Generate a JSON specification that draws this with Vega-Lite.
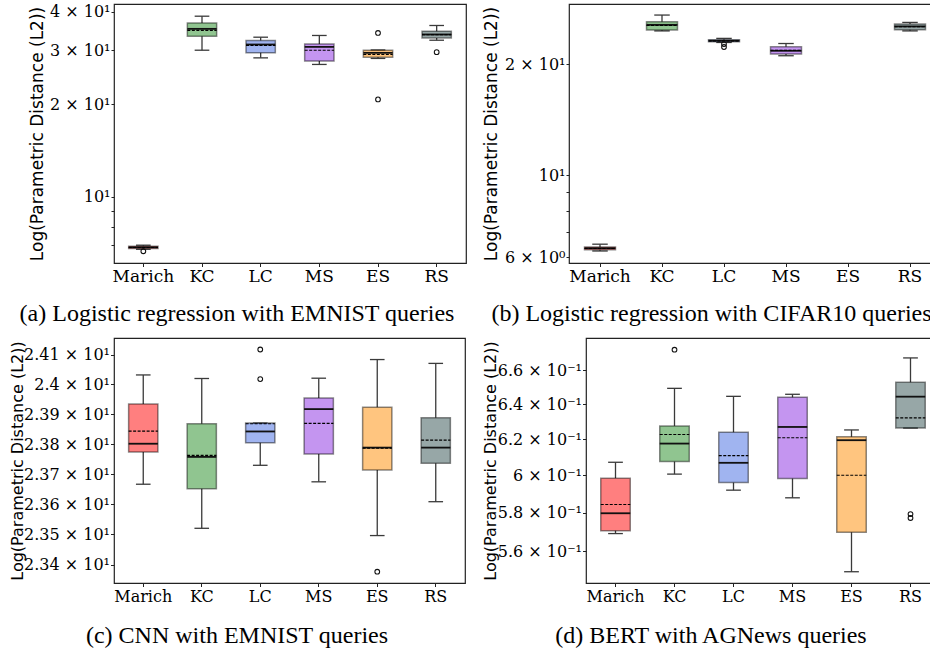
{
"$schema": "https://vega.github.io/schema/vega-lite/v6.json",
"padding": {"left": 8, "top": 3, "right": 0, "bottom": 0},
"background": "white",
"datasets": {
"boxes": [
{"p":"a","cat":"Marich","wlo":6.76,"q1":6.80,"med":6.86,"mean":6.85,"q3":6.92,"whi":6.97},
{"p":"a","cat":"KC","wlo":30.0,"q1":33.3,"med":35.2,"mean":34.8,"q3":36.8,"whi":38.7},
{"p":"a","cat":"LC","wlo":28.33,"q1":29.41,"med":31.31,"mean":31.08,"q3":32.27,"whi":33.07},
{"p":"a","cat":"MS","wlo":26.97,"q1":27.65,"med":30.76,"mean":30.0,"q3":31.45,"whi":33.5},
{"p":"a","cat":"ES","wlo":28.21,"q1":28.48,"med":29.41,"mean":29.06,"q3":30.0,"whi":30.05},
{"p":"a","cat":"RS","wlo":32.33,"q1":32.9,"med":33.75,"mean":33.7,"q3":34.6,"whi":36.1},
{"p":"b","cat":"Marich","wlo":6.23,"q1":6.28,"med":6.34,"mean":6.33,"q3":6.39,"whi":6.5},
{"p":"b","cat":"KC","wlo":24.6,"q1":24.73,"med":25.55,"mean":25.45,"q3":26.05,"whi":27.16},
{"p":"b","cat":"LC","wlo":22.89,"q1":22.99,"med":23.14,"mean":23.1,"q3":23.28,"whi":23.48},
{"p":"b","cat":"MS","wlo":21.07,"q1":21.29,"med":21.73,"mean":21.8,"q3":22.28,"whi":22.74},
{"p":"b","cat":"RS","wlo":24.6,"q1":24.78,"med":25.3,"mean":25.25,"q3":25.68,"whi":25.94},
{"p":"c","cat":"Marich","wlo":23.666,"q1":23.773,"med":23.801,"mean":23.843,"q3":23.934,"whi":24.032},
{"p":"c","cat":"KC","wlo":23.52,"q1":23.651,"med":23.757,"mean":23.762,"q3":23.868,"whi":24.02},
{"p":"c","cat":"LC","wlo":23.729,"q1":23.804,"med":23.842,"mean":23.868,"q3":23.87,"whi":23.87},
{"p":"c","cat":"MS","wlo":23.674,"q1":23.767,"med":23.917,"mean":23.869,"q3":23.954,"whi":24.021},
{"p":"c","cat":"ES","wlo":23.496,"q1":23.713,"med":23.788,"mean":23.786,"q3":23.923,"whi":24.084},
{"p":"c","cat":"RS","wlo":23.608,"q1":23.736,"med":23.788,"mean":23.813,"q3":23.888,"whi":24.071},
{"p":"d","cat":"Marich","wlo":0.569,"q1":0.5705,"med":0.5796,"mean":0.5842,"q3":0.5984,"whi":0.6071},
{"p":"d","cat":"KC","wlo":0.6006,"q1":0.6075,"med":0.6175,"mean":0.6226,"q3":0.6275,"whi":0.6493},
{"p":"d","cat":"LC","wlo":0.5919,"q1":0.596,"med":0.6068,"mean":0.6108,"q3":0.6239,"whi":0.6446},
{"p":"d","cat":"MS","wlo":0.5878,"q1":0.5982,"med":0.6269,"mean":0.6208,"q3":0.644,"whi":0.6458},
{"p":"d","cat":"ES","wlo":0.5496,"q1":0.5697,"med":0.6194,"mean":0.6,"q3":0.6213,"whi":0.6252},
{"p":"d","cat":"RS","wlo":0.6263,"q1":0.6263,"med":0.6444,"mean":0.6321,"q3":0.6529,"whi":0.6675}
],
"outliers": [
{"p":"a","cat":"Marich","v":6.66},
{"p":"a","cat":"ES","v":34.14},
{"p":"a","cat":"ES","v":20.76},
{"p":"a","cat":"RS","v":29.57},
{"p":"b","cat":"LC","v":22.66},
{"p":"b","cat":"LC","v":22.25},
{"p":"c","cat":"LC","v":24.118},
{"p":"c","cat":"LC","v":24.018},
{"p":"c","cat":"ES","v":23.377},
{"p":"d","cat":"KC","v":0.6725},
{"p":"d","cat":"RS","v":0.5792},
{"p":"d","cat":"RS","v":0.5771}
]
},
"config": {
"view": {"stroke": "#222", "strokeWidth": 1.2},
"axis": {"grid": false, "domain": false, "labelFont": "DejaVu Serif", "labelFontSize": 16, "labelColor": "#000", "tickColor": "#222", "tickWidth": 1, "titleFont": "DejaVu Sans", "titleFontSize": 17, "titleFontWeight": "normal", "titleColor": "#000"},
"axisX": {"labelAngle": 0, "tickSize": 3.5, "labelPadding": 2},
"title": {"font": "Liberation Serif", "fontSize": 24, "fontWeight": "normal", "color": "#000", "orient": "bottom", "anchor": "middle", "frame": "bounds"}
},
"spacing": 10,
"columns": 1,
"align": "none",
"concat": [
{"spacing": 14, "hconcat": [
{
"width": 352, "height": 259,
"title": {"text": "(a) Logistic regression with EMNIST queries", "offset": 17, "frame": "bounds", "dx": -10},
"layer": [
{"data":{"name":"boxes"},"transform":[{"filter":"datum.p=='a'"}],"mark":{"type":"rule","color":"#3a3a3a","strokeWidth":1.3},
 "encoding":{"x":{"field":"cat","type":"nominal","title":null,"bandPosition":0.5,"scale":{"domain":["Marich","KC","LC","MS","ES","RS"],"paddingInner":0,"paddingOuter":0},"axis":{"bandPosition":0.5,"labelFontSize":17}},
  "y":{"field":"wlo","type":"quantitative","title":"Log(Parametric Distance (L2))","scale":{"type":"log","domain":[6.1,42.4],"nice":false,"zero":false},
   "axis":{"values":[7,8,9,10,20,30,40],"labelExpr":"datum.value >= 20 ? format(datum.value/10, '.0f') + ' × 10¹' : datum.value == 10 ? '10¹' : ''","minExtent":68,"maxExtent":68,"titlePadding":0,"labelPadding":1,"tickSize":3}},
  "y2":{"field":"q1"}}},
{"data":{"name":"boxes"},"transform":[{"filter":"datum.p=='a'"}],"mark":{"type":"rule","color":"#3a3a3a","strokeWidth":1.3},
 "encoding":{"x":{"field":"cat","type":"nominal","title":null,"bandPosition":0.5,"scale":{"domain":["Marich","KC","LC","MS","ES","RS"],"paddingInner":0,"paddingOuter":0}},
  "y":{"field":"q3","type":"quantitative","scale":{"type":"log","domain":[6.1,42.4],"nice":false,"zero":false}},"y2":{"field":"whi"}}},
{"data":{"name":"boxes"},"transform":[{"filter":"datum.p=='a'"}],"mark":{"type":"rule","color":"#3a3a3a","strokeWidth":1.3},
 "encoding":{"x":{"field":"cat","type":"nominal","title":null,"bandPosition":0.375,"scale":{"domain":["Marich","KC","LC","MS","ES","RS"],"paddingInner":0,"paddingOuter":0}},"x2":{"field":"cat","bandPosition":0.625},
  "y":{"field":"wlo","type":"quantitative","scale":{"type":"log","domain":[6.1,42.4],"nice":false,"zero":false}}}},
{"data":{"name":"boxes"},"transform":[{"filter":"datum.p=='a'"}],"mark":{"type":"rule","color":"#3a3a3a","strokeWidth":1.3},
 "encoding":{"x":{"field":"cat","type":"nominal","title":null,"bandPosition":0.375,"scale":{"domain":["Marich","KC","LC","MS","ES","RS"],"paddingInner":0,"paddingOuter":0}},"x2":{"field":"cat","bandPosition":0.625},
  "y":{"field":"whi","type":"quantitative","scale":{"type":"log","domain":[6.1,42.4],"nice":false,"zero":false}}}},
{"data":{"name":"boxes"},"transform":[{"filter":"datum.p=='a'"}],"mark":{"type":"bar","width":{"band":0.5},"fillOpacity":0.5,"stroke":"#000","strokeOpacity":0.45,"strokeWidth":1.5},
 "encoding":{"x":{"field":"cat","type":"nominal","title":null,"scale":{"domain":["Marich","KC","LC","MS","ES","RS"],"paddingInner":0,"paddingOuter":0}},
  "y":{"field":"q1","type":"quantitative","scale":{"type":"log","domain":[6.1,42.4],"nice":false,"zero":false}},"y2":{"field":"q3"},
  "color":{"field":"cat","type":"nominal","legend":null,"scale":{"domain":["Marich","KC","LC","MS","ES","RS"],"range":["#ff0000","#228b22","#4169e1","#8a2be2","#ff8c00","#2f4f4f"]}}}},
{"data":{"name":"boxes"},"transform":[{"filter":"datum.p=='a'"}],"mark":{"type":"rule","color":"#111","strokeWidth":1.8},
 "encoding":{"x":{"field":"cat","type":"nominal","title":null,"bandPosition":0.25,"scale":{"domain":["Marich","KC","LC","MS","ES","RS"],"paddingInner":0,"paddingOuter":0}},"x2":{"field":"cat","bandPosition":0.75},
  "y":{"field":"med","type":"quantitative","scale":{"type":"log","domain":[6.1,42.4],"nice":false,"zero":false}}}},
{"data":{"name":"boxes"},"transform":[{"filter":"datum.p=='a'"}],"mark":{"type":"rule","color":"#000","strokeWidth":1.1,"strokeDash":[3,1.5]},
 "encoding":{"x":{"field":"cat","type":"nominal","title":null,"bandPosition":0.25,"scale":{"domain":["Marich","KC","LC","MS","ES","RS"],"paddingInner":0,"paddingOuter":0}},"x2":{"field":"cat","bandPosition":0.75},
  "y":{"field":"mean","type":"quantitative","scale":{"type":"log","domain":[6.1,42.4],"nice":false,"zero":false}}}},
{"data":{"name":"outliers"},"transform":[{"filter":"datum.p=='a'"}],"mark":{"type":"point","shape":"circle","filled":false,"size":22,"stroke":"#111","strokeWidth":1.1,"opacity":1},
 "encoding":{"x":{"field":"cat","type":"nominal","title":null,"scale":{"domain":["Marich","KC","LC","MS","ES","RS"],"paddingInner":0,"paddingOuter":0}},
  "y":{"field":"v","type":"quantitative","scale":{"type":"log","domain":[6.1,42.4],"nice":false,"zero":false}}}}
]
},
{
"width": 364, "height": 259,
"title": {"text": "(b) Logistic regression with CIFAR10 queries", "offset": 17, "frame": "bounds"},
"layer": [
{"data":{"name":"boxes"},"transform":[{"filter":"datum.p=='b'"}],"mark":{"type":"rule","color":"#3a3a3a","strokeWidth":1.3},
 "encoding":{"x":{"field":"cat","type":"nominal","title":null,"bandPosition":0.5,"scale":{"domain":["Marich","KC","LC","MS","ES","RS"],"paddingInner":0,"paddingOuter":0,"range":[0,372]},"axis":{"bandPosition":0.5,"labelFontSize":17}},
  "y":{"field":"wlo","type":"quantitative","title":"Log(Parametric Distance (L2))","scale":{"type":"log","domain":[5.78,29.1],"nice":false,"zero":false},
   "axis":{"values":[6,7,8,9,10,20],"labelExpr":"datum.value == 6 ? '6 × 10⁰' : datum.value == 10 ? '10¹' : datum.value == 20 ? '2 × 10¹' : ''","minExtent":69,"maxExtent":69,"titlePadding":0,"labelPadding":1,"tickSize":3}},
  "y2":{"field":"q1"}}},
{"data":{"name":"boxes"},"transform":[{"filter":"datum.p=='b'"}],"mark":{"type":"rule","color":"#3a3a3a","strokeWidth":1.3},
 "encoding":{"x":{"field":"cat","type":"nominal","title":null,"bandPosition":0.5,"scale":{"domain":["Marich","KC","LC","MS","ES","RS"],"paddingInner":0,"paddingOuter":0,"range":[0,372]}},
  "y":{"field":"q3","type":"quantitative","scale":{"type":"log","domain":[5.78,29.1],"nice":false,"zero":false}},"y2":{"field":"whi"}}},
{"data":{"name":"boxes"},"transform":[{"filter":"datum.p=='b'"}],"mark":{"type":"rule","color":"#3a3a3a","strokeWidth":1.3},
 "encoding":{"x":{"field":"cat","type":"nominal","title":null,"bandPosition":0.375,"scale":{"domain":["Marich","KC","LC","MS","ES","RS"],"paddingInner":0,"paddingOuter":0,"range":[0,372]}},"x2":{"field":"cat","bandPosition":0.625},
  "y":{"field":"wlo","type":"quantitative","scale":{"type":"log","domain":[5.78,29.1],"nice":false,"zero":false}}}},
{"data":{"name":"boxes"},"transform":[{"filter":"datum.p=='b'"}],"mark":{"type":"rule","color":"#3a3a3a","strokeWidth":1.3},
 "encoding":{"x":{"field":"cat","type":"nominal","title":null,"bandPosition":0.375,"scale":{"domain":["Marich","KC","LC","MS","ES","RS"],"paddingInner":0,"paddingOuter":0,"range":[0,372]}},"x2":{"field":"cat","bandPosition":0.625},
  "y":{"field":"whi","type":"quantitative","scale":{"type":"log","domain":[5.78,29.1],"nice":false,"zero":false}}}},
{"data":{"name":"boxes"},"transform":[{"filter":"datum.p=='b'"}],"mark":{"type":"bar","width":{"band":0.5},"fillOpacity":0.5,"stroke":"#000","strokeOpacity":0.45,"strokeWidth":1.5},
 "encoding":{"x":{"field":"cat","type":"nominal","title":null,"scale":{"domain":["Marich","KC","LC","MS","ES","RS"],"paddingInner":0,"paddingOuter":0,"range":[0,372]}},
  "y":{"field":"q1","type":"quantitative","scale":{"type":"log","domain":[5.78,29.1],"nice":false,"zero":false}},"y2":{"field":"q3"},
  "color":{"field":"cat","type":"nominal","legend":null,"scale":{"domain":["Marich","KC","LC","MS","ES","RS"],"range":["#ff0000","#228b22","#4169e1","#8a2be2","#ff8c00","#2f4f4f"]}}}},
{"data":{"name":"boxes"},"transform":[{"filter":"datum.p=='b'"}],"mark":{"type":"rule","color":"#111","strokeWidth":1.8},
 "encoding":{"x":{"field":"cat","type":"nominal","title":null,"bandPosition":0.25,"scale":{"domain":["Marich","KC","LC","MS","ES","RS"],"paddingInner":0,"paddingOuter":0,"range":[0,372]}},"x2":{"field":"cat","bandPosition":0.75},
  "y":{"field":"med","type":"quantitative","scale":{"type":"log","domain":[5.78,29.1],"nice":false,"zero":false}}}},
{"data":{"name":"boxes"},"transform":[{"filter":"datum.p=='b'"}],"mark":{"type":"rule","color":"#000","strokeWidth":1.1,"strokeDash":[3,1.5]},
 "encoding":{"x":{"field":"cat","type":"nominal","title":null,"bandPosition":0.25,"scale":{"domain":["Marich","KC","LC","MS","ES","RS"],"paddingInner":0,"paddingOuter":0,"range":[0,372]}},"x2":{"field":"cat","bandPosition":0.75},
  "y":{"field":"mean","type":"quantitative","scale":{"type":"log","domain":[5.78,29.1],"nice":false,"zero":false}}}},
{"data":{"name":"outliers"},"transform":[{"filter":"datum.p=='b'"}],"mark":{"type":"point","shape":"circle","filled":false,"size":22,"stroke":"#111","strokeWidth":1.1,"opacity":1},
 "encoding":{"x":{"field":"cat","type":"nominal","title":null,"scale":{"domain":["Marich","KC","LC","MS","ES","RS"],"paddingInner":0,"paddingOuter":0,"range":[0,372]}},
  "y":{"field":"v","type":"quantitative","scale":{"type":"log","domain":[5.78,29.1],"nice":false,"zero":false}}}}
]
}
]},
{"spacing": 15, "hconcat": [
{
"width": 351, "height": 245,
"title": {"text": "(c) CNN with EMNIST queries", "offset": 19, "frame": "bounds"},
"layer": [
{"data":{"name":"boxes"},"transform":[{"filter":"datum.p=='c'"}],"mark":{"type":"rule","color":"#3a3a3a","strokeWidth":1.3},
 "encoding":{"x":{"field":"cat","type":"nominal","title":null,"bandPosition":0.5,"scale":{"domain":["Marich","KC","LC","MS","ES","RS"],"paddingInner":0,"paddingOuter":0},"axis":{"bandPosition":0.5}},
  "y":{"field":"wlo","type":"quantitative","title":"Log(Parametric Distance (L2))","scale":{"type":"log","domain":[23.34,24.157],"nice":false,"zero":false},
   "axis":{"values":[23.4,23.5,23.6,23.7,23.8,23.9,24.0,24.1],"labelExpr":"format(datum.value/10, '.3~f') + ' × 10¹'","minExtent":89,"maxExtent":89,"titlePadding":0,"labelPadding":1,"tickSize":3.5,"titleFontSize":16}},
  "y2":{"field":"q1"}}},
{"data":{"name":"boxes"},"transform":[{"filter":"datum.p=='c'"}],"mark":{"type":"rule","color":"#3a3a3a","strokeWidth":1.3},
 "encoding":{"x":{"field":"cat","type":"nominal","title":null,"bandPosition":0.5,"scale":{"domain":["Marich","KC","LC","MS","ES","RS"],"paddingInner":0,"paddingOuter":0}},
  "y":{"field":"q3","type":"quantitative","scale":{"type":"log","domain":[23.34,24.157],"nice":false,"zero":false}},"y2":{"field":"whi"}}},
{"data":{"name":"boxes"},"transform":[{"filter":"datum.p=='c'"}],"mark":{"type":"rule","color":"#3a3a3a","strokeWidth":1.3},
 "encoding":{"x":{"field":"cat","type":"nominal","title":null,"bandPosition":0.375,"scale":{"domain":["Marich","KC","LC","MS","ES","RS"],"paddingInner":0,"paddingOuter":0}},"x2":{"field":"cat","bandPosition":0.625},
  "y":{"field":"wlo","type":"quantitative","scale":{"type":"log","domain":[23.34,24.157],"nice":false,"zero":false}}}},
{"data":{"name":"boxes"},"transform":[{"filter":"datum.p=='c'"}],"mark":{"type":"rule","color":"#3a3a3a","strokeWidth":1.3},
 "encoding":{"x":{"field":"cat","type":"nominal","title":null,"bandPosition":0.375,"scale":{"domain":["Marich","KC","LC","MS","ES","RS"],"paddingInner":0,"paddingOuter":0}},"x2":{"field":"cat","bandPosition":0.625},
  "y":{"field":"whi","type":"quantitative","scale":{"type":"log","domain":[23.34,24.157],"nice":false,"zero":false}}}},
{"data":{"name":"boxes"},"transform":[{"filter":"datum.p=='c'"}],"mark":{"type":"bar","width":{"band":0.5},"fillOpacity":0.5,"stroke":"#000","strokeOpacity":0.45,"strokeWidth":1.5},
 "encoding":{"x":{"field":"cat","type":"nominal","title":null,"scale":{"domain":["Marich","KC","LC","MS","ES","RS"],"paddingInner":0,"paddingOuter":0}},
  "y":{"field":"q1","type":"quantitative","scale":{"type":"log","domain":[23.34,24.157],"nice":false,"zero":false}},"y2":{"field":"q3"},
  "color":{"field":"cat","type":"nominal","legend":null,"scale":{"domain":["Marich","KC","LC","MS","ES","RS"],"range":["#ff0000","#228b22","#4169e1","#8a2be2","#ff8c00","#2f4f4f"]}}}},
{"data":{"name":"boxes"},"transform":[{"filter":"datum.p=='c'"}],"mark":{"type":"rule","color":"#111","strokeWidth":1.8},
 "encoding":{"x":{"field":"cat","type":"nominal","title":null,"bandPosition":0.25,"scale":{"domain":["Marich","KC","LC","MS","ES","RS"],"paddingInner":0,"paddingOuter":0}},"x2":{"field":"cat","bandPosition":0.75},
  "y":{"field":"med","type":"quantitative","scale":{"type":"log","domain":[23.34,24.157],"nice":false,"zero":false}}}},
{"data":{"name":"boxes"},"transform":[{"filter":"datum.p=='c'"}],"mark":{"type":"rule","color":"#000","strokeWidth":1.1,"strokeDash":[3,1.5]},
 "encoding":{"x":{"field":"cat","type":"nominal","title":null,"bandPosition":0.25,"scale":{"domain":["Marich","KC","LC","MS","ES","RS"],"paddingInner":0,"paddingOuter":0}},"x2":{"field":"cat","bandPosition":0.75},
  "y":{"field":"mean","type":"quantitative","scale":{"type":"log","domain":[23.34,24.157],"nice":false,"zero":false}}}},
{"data":{"name":"outliers"},"transform":[{"filter":"datum.p=='c'"}],"mark":{"type":"point","shape":"circle","filled":false,"size":22,"stroke":"#111","strokeWidth":1.1,"opacity":1},
 "encoding":{"x":{"field":"cat","type":"nominal","title":null,"scale":{"domain":["Marich","KC","LC","MS","ES","RS"],"paddingInner":0,"paddingOuter":0}},
  "y":{"field":"v","type":"quantitative","scale":{"type":"log","domain":[23.34,24.157],"nice":false,"zero":false}}}}
]
},
{
"width": 346, "height": 245,
"title": {"text": "(d) BERT with AGNews queries", "offset": 19, "frame": "bounds"},
"layer": [
{"data":{"name":"boxes"},"transform":[{"filter":"datum.p=='d'"}],"mark":{"type":"rule","color":"#3a3a3a","strokeWidth":1.3},
 "encoding":{"x":{"field":"cat","type":"nominal","title":null,"bandPosition":0.5,"scale":{"domain":["Marich","KC","LC","MS","ES","RS"],"paddingInner":0,"paddingOuter":0,"range":[0,354]},"axis":{"bandPosition":0.5}},
  "y":{"field":"wlo","type":"quantitative","title":"Log(Parametric Distance (L2))","scale":{"type":"log","domain":[0.544,0.6797],"nice":false,"zero":false},
   "axis":{"values":[0.56,0.58,0.6,0.62,0.64,0.66],"labelExpr":"format(datum.value*10, '.1~f') + ' × 10⁻¹'","minExtent":88,"maxExtent":88,"titlePadding":0,"labelPadding":1,"tickSize":3.5,"titleFontSize":16}},
  "y2":{"field":"q1"}}},
{"data":{"name":"boxes"},"transform":[{"filter":"datum.p=='d'"}],"mark":{"type":"rule","color":"#3a3a3a","strokeWidth":1.3},
 "encoding":{"x":{"field":"cat","type":"nominal","title":null,"bandPosition":0.5,"scale":{"domain":["Marich","KC","LC","MS","ES","RS"],"paddingInner":0,"paddingOuter":0,"range":[0,354]}},
  "y":{"field":"q3","type":"quantitative","scale":{"type":"log","domain":[0.544,0.6797],"nice":false,"zero":false}},"y2":{"field":"whi"}}},
{"data":{"name":"boxes"},"transform":[{"filter":"datum.p=='d'"}],"mark":{"type":"rule","color":"#3a3a3a","strokeWidth":1.3},
 "encoding":{"x":{"field":"cat","type":"nominal","title":null,"bandPosition":0.375,"scale":{"domain":["Marich","KC","LC","MS","ES","RS"],"paddingInner":0,"paddingOuter":0,"range":[0,354]}},"x2":{"field":"cat","bandPosition":0.625},
  "y":{"field":"wlo","type":"quantitative","scale":{"type":"log","domain":[0.544,0.6797],"nice":false,"zero":false}}}},
{"data":{"name":"boxes"},"transform":[{"filter":"datum.p=='d'"}],"mark":{"type":"rule","color":"#3a3a3a","strokeWidth":1.3},
 "encoding":{"x":{"field":"cat","type":"nominal","title":null,"bandPosition":0.375,"scale":{"domain":["Marich","KC","LC","MS","ES","RS"],"paddingInner":0,"paddingOuter":0,"range":[0,354]}},"x2":{"field":"cat","bandPosition":0.625},
  "y":{"field":"whi","type":"quantitative","scale":{"type":"log","domain":[0.544,0.6797],"nice":false,"zero":false}}}},
{"data":{"name":"boxes"},"transform":[{"filter":"datum.p=='d'"}],"mark":{"type":"bar","width":{"band":0.5},"fillOpacity":0.5,"stroke":"#000","strokeOpacity":0.45,"strokeWidth":1.5},
 "encoding":{"x":{"field":"cat","type":"nominal","title":null,"scale":{"domain":["Marich","KC","LC","MS","ES","RS"],"paddingInner":0,"paddingOuter":0,"range":[0,354]}},
  "y":{"field":"q1","type":"quantitative","scale":{"type":"log","domain":[0.544,0.6797],"nice":false,"zero":false}},"y2":{"field":"q3"},
  "color":{"field":"cat","type":"nominal","legend":null,"scale":{"domain":["Marich","KC","LC","MS","ES","RS"],"range":["#ff0000","#228b22","#4169e1","#8a2be2","#ff8c00","#2f4f4f"]}}}},
{"data":{"name":"boxes"},"transform":[{"filter":"datum.p=='d'"}],"mark":{"type":"rule","color":"#111","strokeWidth":1.8},
 "encoding":{"x":{"field":"cat","type":"nominal","title":null,"bandPosition":0.25,"scale":{"domain":["Marich","KC","LC","MS","ES","RS"],"paddingInner":0,"paddingOuter":0,"range":[0,354]}},"x2":{"field":"cat","bandPosition":0.75},
  "y":{"field":"med","type":"quantitative","scale":{"type":"log","domain":[0.544,0.6797],"nice":false,"zero":false}}}},
{"data":{"name":"boxes"},"transform":[{"filter":"datum.p=='d'"}],"mark":{"type":"rule","color":"#000","strokeWidth":1.1,"strokeDash":[3,1.5]},
 "encoding":{"x":{"field":"cat","type":"nominal","title":null,"bandPosition":0.25,"scale":{"domain":["Marich","KC","LC","MS","ES","RS"],"paddingInner":0,"paddingOuter":0,"range":[0,354]}},"x2":{"field":"cat","bandPosition":0.75},
  "y":{"field":"mean","type":"quantitative","scale":{"type":"log","domain":[0.544,0.6797],"nice":false,"zero":false}}}},
{"data":{"name":"outliers"},"transform":[{"filter":"datum.p=='d'"}],"mark":{"type":"point","shape":"circle","filled":false,"size":22,"stroke":"#111","strokeWidth":1.1,"opacity":1},
 "encoding":{"x":{"field":"cat","type":"nominal","title":null,"scale":{"domain":["Marich","KC","LC","MS","ES","RS"],"paddingInner":0,"paddingOuter":0,"range":[0,354]}},
  "y":{"field":"v","type":"quantitative","scale":{"type":"log","domain":[0.544,0.6797],"nice":false,"zero":false}}}}
]
}
]}
]
}
